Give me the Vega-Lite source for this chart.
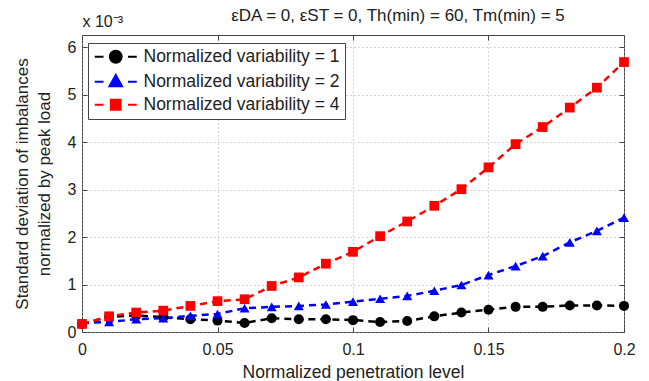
{
  "$schema": "https://vega.github.io/schema/vega-lite/v6.json",
  "width": 542,
  "height": 297,
  "autosize": {"type": "none"},
  "padding": {"left": 82, "top": 35, "right": 25, "bottom": 49},
  "background": "white",
  "title": {
    "text": "εDA = 0, εST = 0, Th(min) = 60, Tm(min) = 5",
    "font": "Liberation Sans",
    "fontSize": 17,
    "fontWeight": "normal",
    "color": "#222",
    "anchor": "middle",
    "dx": 45,
    "offset": -12
  },
  "config": {
    "view": {"stroke": "#444", "strokeWidth": 1},
    "axis": {
      "labelFont": "Liberation Sans",
      "labelFontSize": 16,
      "labelColor": "#222",
      "titleFont": "Liberation Sans",
      "titleFontSize": 17,
      "titleFontWeight": "normal",
      "titleColor": "#222",
      "domain": false,
      "tickColor": "#444",
      "tickSize": -5,
      "labelFlush": false,
      "gridColor": "#aaa",
      "gridDash": [1, 3],
      "gridWidth": 1,
      "gridOpacity": 1
    },
    "legend": {
      "orient": "none",
      "legendX": 6,
      "legendY": 8,
      "labelFont": "Liberation Sans",
      "labelFontSize": 17.5,
      "labelColor": "#222",
      "labelOffset": 19,
      "labelLimit": 400,
      "fillColor": "white",
      "strokeColor": "#444",
      "padding": 5,
      "rowPadding": 4,
      "symbolSize": 196,
      "symbolOffset": 14,
      "symbolStrokeWidth": 2,
      "symbolOpacity": 1
    }
  },
  "data": {
    "values": [
      {"x": 0.00, "y": 0.17, "v": "Normalized variability = 1"},
      {"x": 0.01, "y": 0.32, "v": "Normalized variability = 1"},
      {"x": 0.02, "y": 0.35, "v": "Normalized variability = 1"},
      {"x": 0.03, "y": 0.31, "v": "Normalized variability = 1"},
      {"x": 0.04, "y": 0.27, "v": "Normalized variability = 1"},
      {"x": 0.05, "y": 0.24, "v": "Normalized variability = 1"},
      {"x": 0.06, "y": 0.19, "v": "Normalized variability = 1"},
      {"x": 0.07, "y": 0.29, "v": "Normalized variability = 1"},
      {"x": 0.08, "y": 0.27, "v": "Normalized variability = 1"},
      {"x": 0.09, "y": 0.27, "v": "Normalized variability = 1"},
      {"x": 0.10, "y": 0.25, "v": "Normalized variability = 1"},
      {"x": 0.11, "y": 0.21, "v": "Normalized variability = 1"},
      {"x": 0.12, "y": 0.23, "v": "Normalized variability = 1"},
      {"x": 0.13, "y": 0.33, "v": "Normalized variability = 1"},
      {"x": 0.14, "y": 0.41, "v": "Normalized variability = 1"},
      {"x": 0.15, "y": 0.47, "v": "Normalized variability = 1"},
      {"x": 0.16, "y": 0.53, "v": "Normalized variability = 1"},
      {"x": 0.17, "y": 0.53, "v": "Normalized variability = 1"},
      {"x": 0.18, "y": 0.56, "v": "Normalized variability = 1"},
      {"x": 0.19, "y": 0.56, "v": "Normalized variability = 1"},
      {"x": 0.20, "y": 0.55, "v": "Normalized variability = 1"},
      {"x": 0.00, "y": 0.19, "v": "Normalized variability = 2"},
      {"x": 0.01, "y": 0.21, "v": "Normalized variability = 2"},
      {"x": 0.02, "y": 0.27, "v": "Normalized variability = 2"},
      {"x": 0.03, "y": 0.29, "v": "Normalized variability = 2"},
      {"x": 0.04, "y": 0.34, "v": "Normalized variability = 2"},
      {"x": 0.05, "y": 0.38, "v": "Normalized variability = 2"},
      {"x": 0.06, "y": 0.50, "v": "Normalized variability = 2"},
      {"x": 0.07, "y": 0.53, "v": "Normalized variability = 2"},
      {"x": 0.08, "y": 0.55, "v": "Normalized variability = 2"},
      {"x": 0.09, "y": 0.58, "v": "Normalized variability = 2"},
      {"x": 0.10, "y": 0.64, "v": "Normalized variability = 2"},
      {"x": 0.11, "y": 0.70, "v": "Normalized variability = 2"},
      {"x": 0.12, "y": 0.76, "v": "Normalized variability = 2"},
      {"x": 0.13, "y": 0.87, "v": "Normalized variability = 2"},
      {"x": 0.14, "y": 0.99, "v": "Normalized variability = 2"},
      {"x": 0.15, "y": 1.20, "v": "Normalized variability = 2"},
      {"x": 0.16, "y": 1.39, "v": "Normalized variability = 2"},
      {"x": 0.17, "y": 1.60, "v": "Normalized variability = 2"},
      {"x": 0.18, "y": 1.89, "v": "Normalized variability = 2"},
      {"x": 0.19, "y": 2.13, "v": "Normalized variability = 2"},
      {"x": 0.20, "y": 2.41, "v": "Normalized variability = 2"},
      {"x": 0.00, "y": 0.17, "v": "Normalized variability = 4"},
      {"x": 0.01, "y": 0.33, "v": "Normalized variability = 4"},
      {"x": 0.02, "y": 0.41, "v": "Normalized variability = 4"},
      {"x": 0.03, "y": 0.45, "v": "Normalized variability = 4"},
      {"x": 0.04, "y": 0.55, "v": "Normalized variability = 4"},
      {"x": 0.05, "y": 0.65, "v": "Normalized variability = 4"},
      {"x": 0.06, "y": 0.69, "v": "Normalized variability = 4"},
      {"x": 0.07, "y": 0.97, "v": "Normalized variability = 4"},
      {"x": 0.08, "y": 1.15, "v": "Normalized variability = 4"},
      {"x": 0.09, "y": 1.44, "v": "Normalized variability = 4"},
      {"x": 0.10, "y": 1.69, "v": "Normalized variability = 4"},
      {"x": 0.11, "y": 2.02, "v": "Normalized variability = 4"},
      {"x": 0.12, "y": 2.33, "v": "Normalized variability = 4"},
      {"x": 0.13, "y": 2.66, "v": "Normalized variability = 4"},
      {"x": 0.14, "y": 3.01, "v": "Normalized variability = 4"},
      {"x": 0.15, "y": 3.47, "v": "Normalized variability = 4"},
      {"x": 0.16, "y": 3.96, "v": "Normalized variability = 4"},
      {"x": 0.17, "y": 4.32, "v": "Normalized variability = 4"},
      {"x": 0.18, "y": 4.73, "v": "Normalized variability = 4"},
      {"x": 0.19, "y": 5.15, "v": "Normalized variability = 4"},
      {"x": 0.20, "y": 5.69, "v": "Normalized variability = 4"}
    ]
  },
  "encoding": {
    "x": {"field": "x", "type": "quantitative", "scale": {"domain": [0, 0.2], "nice": false, "zero": false}, "axis": null},
    "y": {"field": "y", "type": "quantitative", "scale": {"domain": [0, 6.26], "nice": false, "zero": false}, "axis": null},
    "fill": {
      "field": "v",
      "type": "nominal",
      "scale": {"domain": ["Normalized variability = 1", "Normalized variability = 2", "Normalized variability = 4"], "range": ["black", "blue", "red"]},
      "legend": {"title": null}
    },
    "stroke": {
      "field": "v",
      "type": "nominal",
      "scale": {"domain": ["Normalized variability = 1", "Normalized variability = 2", "Normalized variability = 4"], "range": ["black", "blue", "red"]},
      "legend": {"title": null}
    }
  },
  "layer": [
    {
      "transform": [{"filter": "false"}],
      "mark": {"type": "point", "filled": true, "opacity": 1, "strokeWidth": 2},
      "encoding": {
        "shape": {
          "field": "v",
          "type": "nominal",
          "scale": {"domain": ["Normalized variability = 1", "Normalized variability = 2", "Normalized variability = 4"], "range": [
            "M-3,0L-1.75,0M1.75,0L3,0M-0.85,0A0.85,0.85,0,1,1,0.85,0A0.85,0.85,0,1,1,-0.85,0Z",
            "M-3,0L-1.75,0M1.75,0L3,0M0,-0.95L0.9,0.65L-0.9,0.65Z",
            "M-3,0L-1.75,0M1.75,0L3,0M-0.7,-0.7L0.7,-0.7L0.7,0.7L-0.7,0.7Z"
          ]},
          "legend": {"title": null}
        }
      }
    },
    {
      "mark": {"type": "line", "strokeDash": [7, 5], "strokeWidth": 2.5},
      "encoding": {
        "fill": {"value": null},
        "x": {"field": "x", "type": "quantitative", "scale": {"domain": [0, 0.2], "nice": false, "zero": false},
          "axis": {"orient": "bottom", "values": [0, 0.05, 0.1, 0.15, 0.2], "format": "~g", "title": "Normalized penetration level", "grid": true, "labelPadding": 14, "titlePadding": 6, "titleFontSize": 17.5}},
        "y": {"field": "y", "type": "quantitative", "scale": {"domain": [0, 6.26], "nice": false, "zero": false},
          "axis": {"orient": "left", "values": [0, 1, 2, 3, 4, 5, 6], "format": "d", "title": ["Standard deviation of imbalances", "normalized by peak load"], "titleLineHeight": 22, "titleAlign": "center", "titleAnchor": "middle", "grid": true, "labelPadding": 11, "titlePadding": 14}}
      }
    },
    {
      "transform": [{"filter": "datum.v === 'Normalized variability = 1'"}],
      "mark": {"type": "point", "shape": "circle", "filled": true, "opacity": 1, "size": 100},
      "encoding": {"stroke": {"value": null}}
    },
    {
      "transform": [{"filter": "datum.v === 'Normalized variability = 2'"}],
      "mark": {"type": "point", "shape": "triangle-up", "filled": true, "opacity": 1, "size": 100},
      "encoding": {"stroke": {"value": null}}
    },
    {
      "transform": [{"filter": "datum.v === 'Normalized variability = 4'"}],
      "mark": {"type": "point", "shape": "square", "filled": true, "opacity": 1, "size": 95},
      "encoding": {
        "stroke": {"value": null},
        "x": {"field": "x", "type": "quantitative", "scale": {"domain": [0, 0.2], "nice": false, "zero": false},
          "axis": {"orient": "top", "values": [0, 0.05, 0.1, 0.15, 0.2], "labels": false, "title": null, "grid": false}},
        "y": {"field": "y", "type": "quantitative", "scale": {"domain": [0, 6.26], "nice": false, "zero": false},
          "axis": {"orient": "right", "values": [0, 1, 2, 3, 4, 5, 6], "labels": false, "grid": false, "title": "x 10⁻³", "titleAngle": 0, "titleAlign": "left", "titleBaseline": "alphabetic", "titleX": -542, "titleY": -9, "titleFontSize": 16}}
      }
    }
  ],
  "resolve": {"axis": {"x": "independent", "y": "independent"}}
}
